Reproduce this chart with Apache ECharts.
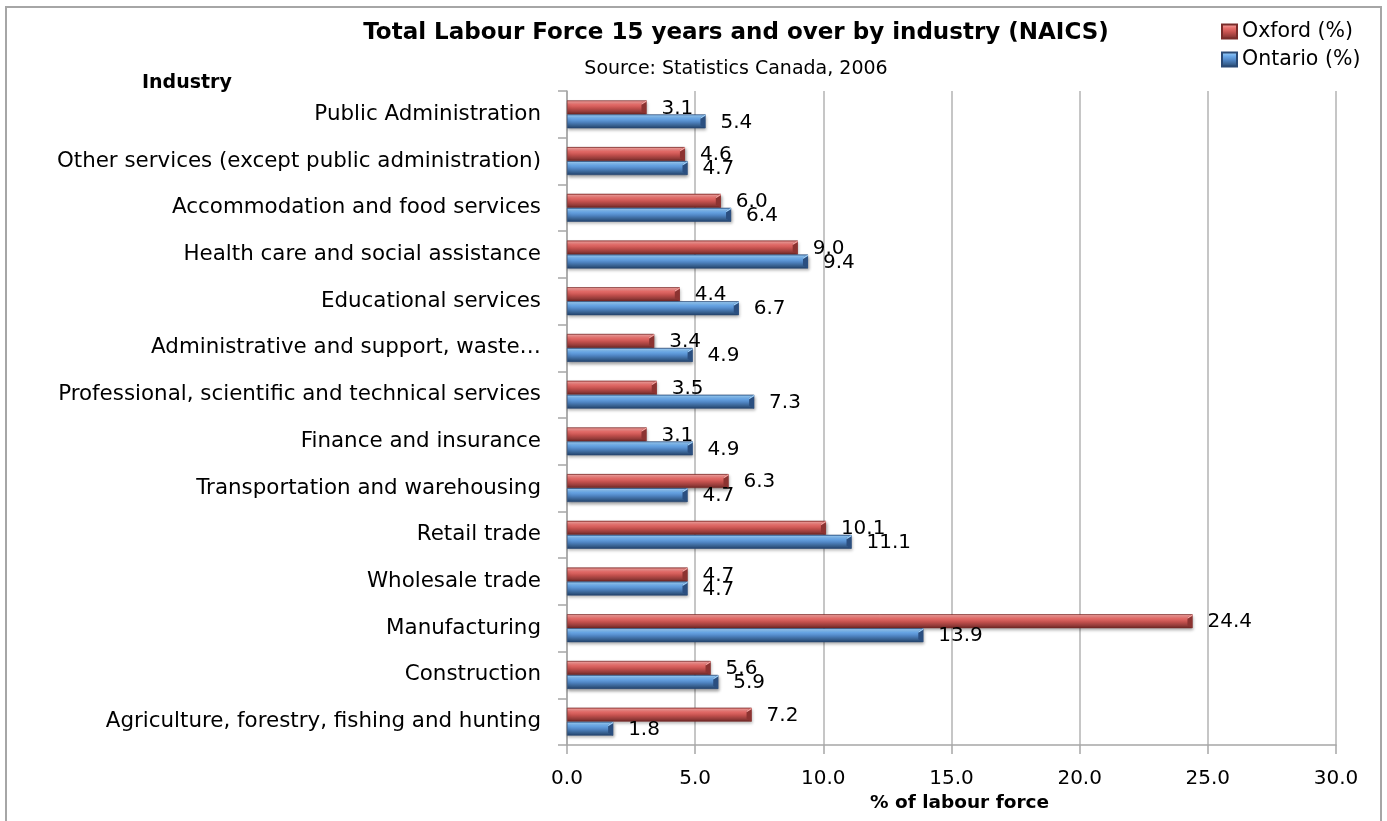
<!DOCTYPE html>
<html>
<head>
<meta charset="utf-8">
<script src="https://cdn.jsdelivr.net/npm/echarts@6/dist/echarts.min.js"></script>
<style>
  html, body { margin: 0; padding: 0; background: #ffffff; }
  #chart { width: 1387px; height: 821px; }
</style>
</head>
<body>
<div id="chart"></div>
<script>
// Industries, listed from the bottom of the axis to the top
const industries = [
  'Agriculture, forestry, fishing and hunting',
  'Construction',
  'Manufacturing',
  'Wholesale trade',
  'Retail trade',
  'Transportation and warehousing',
  'Finance and insurance',
  'Professional, scientific and technical services',
  'Administrative and support, waste…',
  'Educational services',
  'Health care and social assistance',
  'Accommodation and food services',
  'Other services (except public administration)',
  'Public Administration'
];

// Share of the labour force (%) in each industry
const oxford  = [7.2, 5.6, 24.4, 4.7, 10.1, 6.3, 3.1, 3.5, 3.4, 4.4, 9.0, 6.0, 4.6, 3.1];
const ontario = [1.8, 5.9, 13.9, 4.7, 11.1, 4.7, 4.9, 7.3, 4.9, 6.7, 9.4, 6.4, 4.7, 5.4];

const seriesNames = ['Oxford (%)', 'Ontario (%)'];
const xTicks = { min: 0, max: 30, step: 5 };

const FONT = '"DejaVu Sans", "Liberation Sans", sans-serif';
const BAR_W = 14;

// Bevelled bar fill: light upper edge, darker lower edge
function bevel(stops) {
  return new echarts.graphic.LinearGradient(0, 0, 0, 1, stops.map(c => ({ offset: c[0], color: c[1] })));
}
const redFill = bevel([[0, '#9c3633'], [0.1, '#f39a97'], [0.3, '#e66d6a'], [0.55, '#c4514e'], [0.8, '#963c3a'], [1, '#6a2624']]);
const blueFill = bevel([[0, '#2f5f99'], [0.1, '#93c9f7'], [0.3, '#6aa8e8'], [0.55, '#4f84c2'], [0.8, '#37608f'], [1, '#22416a']]);

const chart = echarts.init(document.getElementById('chart'), null, { renderer: 'canvas' });

function barSeries(name, values, fill, edge) {
  return {
    name: name,
    type: 'bar',
    data: values,
    barWidth: BAR_W,
    barGap: '0%',
    itemStyle: {
      color: fill,
      borderColor: edge,
      borderWidth: 0.6,
      shadowColor: 'rgba(0,0,0,0.35)',
      shadowBlur: 3,
      shadowOffsetY: 2,
      shadowOffsetX: 1
    },
    label: {
      show: true,
      position: 'right',
      distance: 15,
      offset: [0, 1],
      color: '#000',
      fontFamily: FONT,
      fontSize: 20,
      formatter: p => p.value.toFixed(1)
    },
    emphasis: { disabled: true }
  };
}

// Bevelled end face drawn at the tip of each bar (side = -1 upper bar, +1 lower bar)
function capSeries(id, values, side, faceColor, lightColor) {
  return {
    id: id,
    type: 'custom',
    z: 3,
    silent: true,
    data: values.map((v, i) => [v, i]),
    encode: { x: 0, y: 1 },
    renderItem: function (params, api) {
      const tip = api.coord([api.value(0), api.value(1)]);
      const top = side < 0 ? tip[1] - BAR_W : tip[1];
      const bottom = top + BAR_W;
      const x = tip[0];
      const d = 5;
      return {
        type: 'group',
        children: [
          {
            type: 'polygon',
            shape: { points: [[x - d, top + 3], [x, top], [x, bottom], [x - d, bottom - 3]] },
            style: { fill: faceColor }
          },
          {
            type: 'polygon',
            shape: { points: [[x - d, top + 3], [x, top], [x, top + 1.5], [x - d, top + 4.5]] },
            style: { fill: lightColor }
          }
        ]
      };
    }
  };
}

chart.setOption({
  animation: false,
  backgroundColor: '#ffffff',
  title: [
    {
      text: 'Total Labour Force 15 years and over by industry (NAICS)',
      left: 731, top: 17, textAlign: 'center',
      textStyle: { fontFamily: FONT, fontSize: 23, fontWeight: 'bold', color: '#000' }
    },
    {
      text: 'Source: Statistics Canada, 2006',
      left: 731, top: 55, textAlign: 'center',
      textStyle: { fontFamily: FONT, fontSize: 19, fontWeight: 'normal', color: '#000' }
    },
    {
      text: 'Industry',
      left: 137, top: 69,
      textStyle: { fontFamily: FONT, fontSize: 19, fontWeight: 'bold', color: '#000' }
    }
  ],
  legend: {
    data: seriesNames,
    orient: 'vertical',
    left: 1216, top: 16,
    itemWidth: 15, itemHeight: 14, itemGap: 7,
    icon: 'rect',
    textStyle: { fontFamily: FONT, fontSize: 20.5, color: '#000' }
  },
  graphic: [{
    type: 'rect',
    shape: { x: 6, y: 7, width: 1375, height: 840 },
    style: { fill: 'none', stroke: '#a6a6a6', lineWidth: 2 },
    silent: true
  }],
  grid: { left: 567, right: 51, top: 91, bottom: 76, containLabel: false },
  xAxis: {
    type: 'value',
    min: xTicks.min, max: xTicks.max, interval: xTicks.step,
    name: '% of labour force',
    nameLocation: 'middle',
    nameGap: 49,
    nameTextStyle: { fontFamily: FONT, fontSize: 18.5, fontWeight: 'bold', color: '#000', padding: [0, 0, 0, 16] },
    axisLine: { show: true, lineStyle: { color: '#a6a6a6', width: 1.5 } },
    axisTick: { show: true, length: 9, lineStyle: { color: '#a6a6a6', width: 1.5 } },
    axisLabel: { margin: 24, fontFamily: FONT, fontSize: 20, color: '#000', formatter: v => v.toFixed(1) },
    splitLine: { show: true, lineStyle: { color: '#b3b3b3', width: 1.5 } }
  },
  yAxis: {
    type: 'category',
    data: industries,
    axisLine: { show: true, lineStyle: { color: '#a6a6a6', width: 1.5 } },
    axisTick: { show: true, length: 9, lineStyle: { color: '#a6a6a6', width: 1.5 } },
    axisLabel: { margin: 26, fontFamily: FONT, fontSize: 21.4, color: '#000' },
    splitLine: { show: false }
  },
  series: [
    barSeries(seriesNames[0], oxford, redFill, '#7a2c2a'),
    barSeries(seriesNames[1], ontario, blueFill, '#2a4a75'),
    capSeries('oxford-caps', oxford, -1, '#8c3331', '#f4a3a0'),
    capSeries('ontario-caps', ontario, 1, '#2b4f80', '#9dcff8')
  ]
});
</script>
</body>
</html>
